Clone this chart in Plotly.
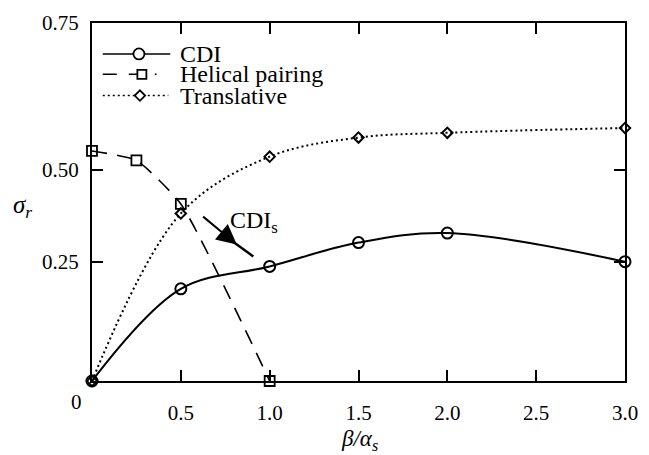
import plotly.graph_objects as go

# ---- data ----
cdi_x = [0.0, 0.5, 1.0, 1.5, 2.0, 3.0]
cdi_y = [0.0, 0.193, 0.240, 0.290, 0.310, 0.250]

hel_x = [0.0, 0.25, 0.5, 1.0]
hel_y = [0.482, 0.462, 0.371, 0.0]

tra_x = [0.0, 0.5, 1.0, 1.5, 2.0, 3.0]
tra_y = [0.0, 0.351, 0.470, 0.510, 0.520, 0.530]

x_ticks = [0.5, 1.0, 1.5, 2.0, 2.5, 3.0]
x_tick_text = ["0.5", "1.0", "1.5", "2.0", "2.5", "3.0"]
# the printed 0.50 tick sits a little below its linear place in the original
y_ticks = [0.25, 0.442, 0.75]
y_tick_text = ["0.25", "0.50", "0.75"]

series_names = ["CDI", "Helical pairing", "Translative"]

FONT = "Liberation Serif, Times New Roman, serif"
W, H = 649, 455
L, R, T, B = 92, 637, 11, 381  # plot box, pixels


def px(sx):
    return (sx - L) / (R - L)


def py(sy):
    return (B - sy) / (B - T)


fig = go.Figure()

fig.add_trace(go.Scatter(
    x=cdi_x, y=cdi_y, mode="lines+markers", name=series_names[0],
    line=dict(color="black", width=2, shape="spline", smoothing=1.0),
    marker=dict(symbol="circle-open", size=11, color="black", line=dict(width=2)),
    showlegend=False, cliponaxis=False))

fig.add_trace(go.Scatter(
    x=hel_x, y=hel_y, mode="lines+markers", name=series_names[1],
    line=dict(color="black", width=1.6, dash="15px,10px", shape="spline", smoothing=0.5),
    marker=dict(symbol="square-open", size=10, color="black", line=dict(width=1.8)),
    showlegend=False, cliponaxis=False))

fig.add_trace(go.Scatter(
    x=tra_x, y=tra_y, mode="lines+markers", name=series_names[2],
    line=dict(color="black", width=2, dash="2px,3px", shape="spline", smoothing=1.0),
    marker=dict(symbol="diamond-open", size=8, color="black", line=dict(width=2)),
    showlegend=False, cliponaxis=False))

# ---- hand-made legend on an overlay pixel axis ----
leg_rows = [43, 64, 86]
leg_x0 = 103
leg_ends = [172, 158, 170]
leg_marks = [140, 143, 141]
leg_styles = [
    dict(line=dict(color="black", width=1.6), sym="circle", size=11),
    dict(line=dict(color="black", width=1.6, dash="14px,12px"), sym="square", size=9),
    dict(line=dict(color="black", width=1.4, dash="2px,3px"), sym="diamond", size=8),
]
for name, yy, x1, xm, st in zip(series_names, leg_rows, leg_ends, leg_marks, leg_styles):
    fig.add_trace(go.Scatter(
        x=[leg_x0, x1], y=[yy, yy], mode="lines", line=st["line"],
        xaxis="x2", yaxis="y2", showlegend=False, hoverinfo="skip"))
    fig.add_trace(go.Scatter(
        x=[xm], y=[yy], mode="markers",
        marker=dict(symbol=st["sym"], size=st["size"], color="white",
                    line=dict(width=1.8, color="black")),
        xaxis="x2", yaxis="y2", showlegend=False, hoverinfo="skip"))
    fig.add_annotation(x=180, y=yy, xref="x2", yref="y2", text=name,
                       showarrow=False, xanchor="left", yanchor="middle",
                       font=dict(family=FONT, size=24, color="black"))

# ---- CDI_s arrow ----
fig.add_annotation(x=0.815, y=0.286, ax=0.617, ay=0.347, xref="x", yref="y",
                   axref="x", ayref="y", text="", showarrow=True,
                   arrowhead=2, arrowsize=2.0, arrowwidth=2, arrowcolor="black")
fig.add_shape(type="line", x0=0.79, y0=0.293, x1=0.908, y1=0.261,
              xref="x", yref="y", line=dict(color="black", width=2.5))
fig.add_annotation(x=0.914, y=0.333, xref="x", yref="y",
                   text="CDI<sub>s</sub>", showarrow=False,
                   xanchor="center", yanchor="middle",
                   font=dict(family=FONT, size=24, color="black"))

# ---- "0" label and axis titles ----
fig.add_annotation(x=px(76), y=py(403), xref="paper", yref="paper", text="0",
                   showarrow=False, xanchor="center", yanchor="middle",
                   font=dict(family=FONT, size=21, color="black"))
fig.add_annotation(x=px(366), y=py(442), xref="paper", yref="paper",
                   text="<i>β/α<sub>s</sub></i>", showarrow=False,
                   xanchor="center", yanchor="middle",
                   font=dict(family=FONT, size=23, color="black"))
fig.add_annotation(x=px(21), y=py(201), xref="paper", yref="paper",
                   text="<i>σ<sub>r</sub></i>", showarrow=False,
                   xanchor="center", yanchor="middle",
                   font=dict(family=FONT, size=25, color="black"))

axis_common = dict(showline=True, linecolor="black", linewidth=2, mirror="ticks",
                   ticks="inside", ticklen=11, tickwidth=1.5, tickcolor="black",
                   showgrid=False, zeroline=False, ticklabeloverflow="allow",
                   tickfont=dict(family=FONT, size=21, color="black"))

fig.update_layout(
    width=W, height=H,
    margin=dict(l=L, r=W - R, t=T, b=H - B, pad=0),
    paper_bgcolor="white", plot_bgcolor="white",
    showlegend=False,
    xaxis=dict(range=[0, 3.0], tickvals=x_ticks, ticktext=x_tick_text,
               ticklabelstandoff=12, **axis_common),
    yaxis=dict(range=[0, 0.75], tickvals=y_ticks, ticktext=y_tick_text,
               ticklabelstandoff=7, **axis_common),
    xaxis2=dict(range=[L, R], overlaying="x", visible=False, fixedrange=True),
    yaxis2=dict(range=[B, T], overlaying="y", visible=False, fixedrange=True),
)

fig.write_html("out.html", config={"displayModeBar": False},
               post_script="document.body.style.margin='0';document.body.style.overflow='hidden';")
